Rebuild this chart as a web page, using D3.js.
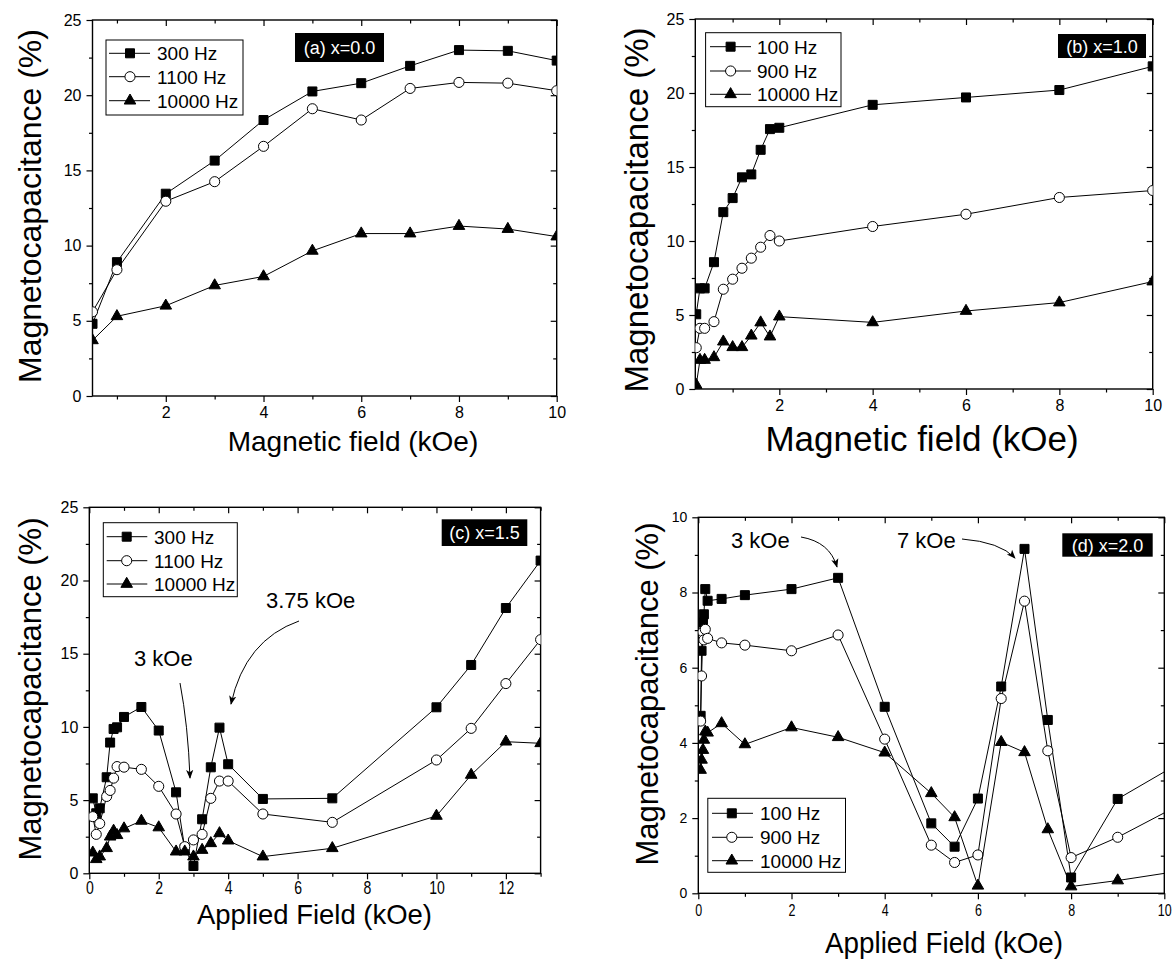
<!DOCTYPE html>
<html>
<head>
<meta charset="utf-8">
<script src="https://cdn.jsdelivr.net/npm/d3@7"></script>
<style>
  body { margin: 0; background: #fff; }
  svg text { font-family: "Liberation Sans", Arial, sans-serif; fill: #000; }
</style>
</head>
<body>
<div id="my_dataviz"></div>
<script>
// ---- panel (a) x=0.0
const fieldA = [0.5, 1, 2, 3, 4, 5, 6, 7, 8, 9, 10];
const a300 = [4.8, 8.9, 13.45, 15.65, 18.35, 20.25, 20.8, 21.95, 23.0, 22.95, 22.3];
const a1100 = [5.6, 8.4, 12.95, 14.25, 16.6, 19.1, 18.35, 20.45, 20.85, 20.8, 20.3];
const a10000 = [3.7, 5.3, 6.0, 7.35, 7.95, 9.65, 10.8, 10.8, 11.3, 11.1, 10.6];

// ---- panel (b) x=1.0
const fieldB = [0.22, 0.3, 0.4, 0.6, 0.8, 1.0, 1.2, 1.4, 1.6, 1.8, 2, 4, 6, 8, 10];
const b100 = [5.05, 6.8, 6.8, 8.57, 11.95, 12.9, 14.3, 14.5, 16.16, 17.56, 17.65, 19.2, 19.7, 20.2, 21.8];
const b900 = [2.79, 4.1, 4.1, 4.55, 6.74, 7.42, 8.16, 8.84, 9.58, 10.37, 10.0, 10.98, 11.81, 12.94, 13.41];
const b10000 = [0.27, 1.96, 1.96, 2.14, 3.2, 2.82, 2.82, 3.6, 4.49, 3.54, 4.89, 4.5, 5.27, 5.84, 7.26];

// ---- panel (c) x=1.5
const fieldC = [0.1, 0.2, 0.3, 0.5, 0.6, 0.7, 0.8, 1.0, 1.5, 2.0, 2.5, 2.75, 3.0, 3.25, 3.5, 3.75, 4.0, 5, 7, 10, 11, 12, 13];
const c300 = [5.12, 4.1, 4.44, 6.56, 8.93, 9.86, 9.97, 10.68, 11.36, 9.75, 5.53, 1.7, 0.5, 3.69, 7.24, 9.95, 7.45, 5.08, 5.12, 11.34, 14.23, 18.12, 21.36];
const c1100 = [3.87, 2.66, 3.4, 5.25, 5.66, 6.5, 7.29, 7.25, 7.1, 5.94, 4.05, 1.82, 2.28, 2.66, 5.12, 6.3, 6.3, 4.05, 3.48, 7.74, 9.9, 12.96, 15.96];
const c10000 = [1.41, 0.96, 1.14, 1.71, 2.5, 2.9, 2.6, 3.06, 3.58, 3.13, 1.48, 1.48, 1.14, 1.59, 2.05, 2.73, 2.23, 1.14, 1.71, 3.92, 6.72, 8.99, 8.88];

// ---- panel (d) x=2.0
const fieldD = [0.05, 0.07, 0.1, 0.12, 0.15, 0.2, 0.5, 1, 2, 3, 4, 5, 5.5, 6, 6.5, 7, 7.5, 8, 9, 11];
const d100 = [4.72, 6.45, 7.2, 7.42, 8.09, 7.78, 7.83, 7.93, 8.09, 8.39, 4.96, 1.86, 1.24, 2.52, 5.5, 9.16, 4.61, 0.42, 2.51, 3.95];
const d900 = [4.58, 5.78, 6.95, 6.74, 7.02, 6.78, 6.66, 6.6, 6.45, 6.87, 4.1, 1.28, 0.82, 1.02, 5.18, 7.77, 3.79, 0.95, 1.49, 2.79];
const d10000 = [3.28, 3.55, 3.81, 4.08, 4.3, 4.27, 4.52, 3.96, 4.41, 4.15, 3.74, 2.66, 2.02, 0.2, 4.02, 3.75, 1.7, 0.18, 0.34, 0.72];

// ticks
const ticksX10 = [2, 4, 6, 8, 10];
const ticksX10zero = [0, 2, 4, 6, 8, 10];
const ticksX13 = [0, 2, 4, 6, 8, 10, 12];
const minorX10 = [1, 3, 5, 7, 9];
const minorX13 = [1, 3, 5, 7, 9, 11, 13];
const ticksY25 = [0, 5, 10, 15, 20, 25];
const minorY25 = [2.5, 7.5, 12.5, 17.5, 22.5];
const ticksY10 = [0, 2, 4, 6, 8, 10];
const minorY10 = [1, 3, 5, 7, 9];

const freqsAC = ["300 Hz", "1100 Hz", "10000 Hz"];
const freqsBD = ["100 Hz", "900 Hz", "10000 Hz"];
const symbols = ["square", "circle", "triangle"];

const svg = d3.select("#my_dataviz")
  .append("svg")
  .attr("width", 1175)
  .attr("height", 959);

const defs = svg.append("defs");
defs.append("marker")
  .attr("id", "arrowHead")
  .attr("viewBox", "0 0 10 10")
  .attr("refX", 9).attr("refY", 5)
  .attr("markerWidth", 9).attr("markerHeight", 9)
  .attr("markerUnits", "userSpaceOnUse")
  .attr("orient", "auto")
  .append("path")
  .attr("d", "M0,1 L10,5 L0,9 L2.5,5 Z")
  .attr("fill", "#000");

const panels = [
  {
    id: "a", box: {left: 92.5, right: 556.7, top: 20, bottom: 396},
    xDomain: [0.5, 10], yDomain: [0, 25],
    xTicks: ticksX10, xMinor: minorX10, yTicks: ticksY25, yMinor: minorY25,
    field: fieldA, values: [a300, a1100, a10000], names: freqsAC,
    legend: {x: 106, y: 40, w: 137, h: 75, rows: [53.3, 76.7, 100.7], mark: 130, l0: 109, l1: 150, tx: 157},
    tag: {text: "(a) x=0.0", x: 295, y: 33, w: 89, h: 29},
    xLabel: {text: "Magnetic field (kOe)", x: 353, y: 451, size: 28},
    yLabel: {x: 41, y: 206, size: 32},
    tickSize: 16, narrow: false
  },
  {
    id: "b", box: {left: 695.3, right: 1152.7, top: 19, bottom: 389},
    xDomain: [0.2, 10], yDomain: [0, 25],
    xTicks: ticksX10, xMinor: minorX10, yTicks: ticksY25, yMinor: minorY25,
    field: fieldB, values: [b100, b900, b10000], names: freqsBD,
    legend: {x: 705.6, y: 32.7, w: 135.4, h: 74, rows: [46.7, 71, 94.3], mark: 730.6, l0: 710, l1: 751, tx: 757},
    tag: {text: "(b) x=1.0", x: 1058, y: 34, w: 88, h: 24},
    xLabel: {text: "Magnetic field (kOe)", x: 922, y: 451, size: 35},
    yLabel: {x: 648, y: 210, size: 33},
    tickSize: 16, narrow: false
  },
  {
    id: "c", box: {left: 89.3, right: 540.6, top: 507.3, bottom: 873.3},
    xDomain: [0, 13], yDomain: [0, 25],
    xTicks: ticksX13, xMinor: minorX13, yTicks: ticksY25, yMinor: minorY25,
    field: fieldC, values: [c300, c1100, c10000], names: freqsAC,
    legend: {x: 103.3, y: 522.7, w: 134, h: 74, rows: [536.7, 560.7, 584], mark: 126.7, l0: 106.7, l1: 147.3, tx: 154},
    tag: {text: "(c) x=1.5", x: 441.7, y: 519.3, w: 85.6, h: 26.7},
    xLabel: {text: "Applied Field (kOe)", x: 314.5, y: 924, size: 28, length: 235},
    yLabel: {x: 41, y: 689, size: 31},
    tickSize: 16, narrow: true, tickPad: 2
  },
  {
    id: "d", box: {left: 698.3, right: 1164.3, top: 517.3, bottom: 893.3},
    xDomain: [0, 10], yDomain: [0, 10],
    xTicks: ticksX10zero, xMinor: minorX10, yTicks: ticksY10, yMinor: minorY10,
    field: fieldD, values: [d100, d900, d10000], names: freqsBD,
    legend: {x: 707.8, y: 798.3, w: 137.7, h: 74, rows: [813.3, 837.3, 860.7], mark: 731.8, l0: 712, l1: 753, tx: 760},
    tag: {text: "(d) x=2.0", x: 1062.3, y: 533.3, w: 90.4, h: 23.4},
    xLabel: {text: "Applied Field (kOe)", x: 944, y: 953, size: 30, length: 238},
    yLabel: {x: 658, y: 694, size: 31},
    tickSize: 14, narrow: true, tickPad: 5
  }
];

function symbolPath(kind) {
  if (kind === "square") return d3.symbol(d3.symbolSquare, 81)();
  if (kind === "circle") return d3.symbol(d3.symbolCircle, 80)();
  return d3.symbol(d3.symbolTriangle, 58)();
}

function drawMarker(g, kind, x, y) {
  g.append("path")
    .attr("d", symbolPath(kind))
    .attr("transform", `translate(${x},${y})`)
    .attr("fill", kind === "circle" ? "#fff" : "#000")
    .attr("stroke", "#000")
    .attr("stroke-width", 1);
}

function drawPanel(p) {
  const b = p.box;
  const x = d3.scaleLinear().domain(p.xDomain).range([b.left, b.right]);
  const y = d3.scaleLinear().domain(p.yDomain).range([b.bottom, b.top]);
  const g = svg.append("g").attr("class", "panel-" + p.id);
  const minorX = p.xMinor.filter(v => v <= p.xDomain[1]);

  // clip the data to the frame
  defs.append("clipPath").attr("id", "clip-" + p.id)
    .append("rect")
    .attr("x", b.left).attr("y", b.top)
    .attr("width", b.right - b.left).attr("height", b.bottom - b.top);

  // bottom axis with labels, ticks outside
  const xAx = g.append("g")
    .attr("transform", `translate(0,${b.bottom})`)
    .call(d3.axisBottom(x).tickValues(p.xTicks).tickSize(6).tickPadding(p.tickPad || 5).tickSizeOuter(0).tickFormat(d3.format("d")));
  xAx.selectAll("text")
    .style("font-size", (p.narrow ? p.tickSize + 2 : p.tickSize) + "px")
    .attr("transform", p.narrow ? "scale(0.78,1)" : null);
  g.append("g")
    .attr("transform", `translate(0,${b.bottom})`)
    .call(d3.axisBottom(x).tickValues(minorX).tickSize(3.5).tickSizeOuter(0).tickFormat(""));

  // left axis
  const yAx = g.append("g")
    .attr("transform", `translate(${b.left},0)`)
    .call(d3.axisLeft(y).tickValues(p.yTicks).tickSize(6).tickPadding(5).tickSizeOuter(0).tickFormat(d3.format("d")));
  yAx.selectAll("text").style("font-size", p.tickSize + "px");
  g.append("g")
    .attr("transform", `translate(${b.left},0)`)
    .call(d3.axisLeft(y).tickValues(p.yMinor).tickSize(3.5).tickSizeOuter(0).tickFormat(""));

  // top and right mirror ticks pointing inward
  g.append("g")
    .attr("transform", `translate(0,${b.top})`)
    .call(d3.axisTop(x).tickValues(p.xTicks).tickSize(-6).tickSizeOuter(0).tickFormat(""));
  g.append("g")
    .attr("transform", `translate(0,${b.top})`)
    .call(d3.axisTop(x).tickValues(minorX).tickSize(-3.5).tickSizeOuter(0).tickFormat(""));
  g.append("g")
    .attr("transform", `translate(${b.right},0)`)
    .call(d3.axisRight(y).tickValues(p.yTicks).tickSize(-6).tickSizeOuter(0).tickFormat(""));
  g.append("g")
    .attr("transform", `translate(${b.right},0)`)
    .call(d3.axisRight(y).tickValues(p.yMinor).tickSize(-3.5).tickSizeOuter(0).tickFormat(""));

  g.selectAll(".domain").remove();
  g.selectAll(".tick line").attr("stroke", "#000").attr("stroke-width", 1.2);
  g.selectAll(".tick text").attr("fill", "#000");

  // frame
  g.append("rect")
    .attr("x", b.left).attr("y", b.top)
    .attr("width", b.right - b.left).attr("height", b.bottom - b.top)
    .attr("fill", "none").attr("stroke", "#000").attr("stroke-width", 1.4);

  // series
  const plot = g.append("g").attr("clip-path", `url(#clip-${p.id})`);
  const line = d3.line().x(d => x(d[0])).y(d => y(d[1]));
  p.values.forEach(function(vals, i) {
    const pts = p.field.map((f, k) => [f, vals[k]]);
    plot.append("path")
      .datum(pts)
      .attr("d", line)
      .attr("fill", "none")
      .attr("stroke", "#000")
      .attr("stroke-width", 1);
    pts.forEach(function(pt) {
      if (pt[0] <= p.xDomain[1]) drawMarker(plot, symbols[i], x(pt[0]), y(pt[1]));
    });
  });

  // legend
  const L = p.legend;
  g.append("rect")
    .attr("x", L.x).attr("y", L.y).attr("width", L.w).attr("height", L.h)
    .attr("fill", "#fff").attr("stroke", "#000").attr("stroke-width", 1);
  p.names.forEach(function(name, i) {
    g.append("line")
      .attr("x1", L.l0).attr("x2", L.l1).attr("y1", L.rows[i]).attr("y2", L.rows[i])
      .attr("stroke", "#000").attr("stroke-width", 1);
    drawMarker(g, symbols[i], L.mark, L.rows[i]);
    g.append("text")
      .attr("x", L.tx).attr("y", L.rows[i] + 7)
      .style("font-size", "19px")
      .text(name);
  });

  // black tag
  const T = p.tag;
  g.append("rect")
    .attr("x", T.x).attr("y", T.y).attr("width", T.w).attr("height", T.h)
    .attr("fill", "#000");
  g.append("text")
    .attr("x", T.x + T.w / 2).attr("y", T.y + T.h / 2 + 6.5)
    .attr("text-anchor", "middle")
    .style("font-size", "18px")
    .style("fill", "#fff")
    .text(T.text);

  // axis titles
  const xt = g.append("text")
    .attr("x", p.xLabel.x).attr("y", p.xLabel.y)
    .attr("text-anchor", "middle")
    .style("font-size", p.xLabel.size + "px")
    .text(p.xLabel.text);
  if (p.xLabel.length) {
    // condensed look of the lower panels
    xt.attr("textLength", p.xLabel.length).attr("lengthAdjust", "spacingAndGlyphs");
  }
  g.append("text")
    .attr("transform", `translate(${p.yLabel.x},${p.yLabel.y}) rotate(-90)`)
    .attr("text-anchor", "middle")
    .style("font-size", p.yLabel.size + "px")
    .text("Magnetocapacitance (%)");

  return {x: x, y: y, g: g};
}

const drawn = panels.map(drawPanel);

// annotations with curved arrows
function note(g, text, tx, ty, path) {
  g.append("text")
    .attr("x", tx).attr("y", ty)
    .style("font-size", "22px")
    .text(text);
  g.append("path")
    .attr("d", path)
    .attr("fill", "none")
    .attr("stroke", "#000")
    .attr("stroke-width", 1)
    .attr("marker-end", "url(#arrowHead)");
}

const gc = drawn[2].g;
note(gc, "3 kOe", 134, 666, "M180,683 Q188,725 190,778");
note(gc, "3.75 kOe", 266, 608, "M299,621 Q245,640 231,704");

const gd = drawn[3].g;
note(gd, "3 kOe", 731, 548, "M801,537 Q830,542 837,567");
note(gd, "7 kOe", 897, 548, "M962,539 Q1000,542 1015,558");
</script>
</body>
</html>
